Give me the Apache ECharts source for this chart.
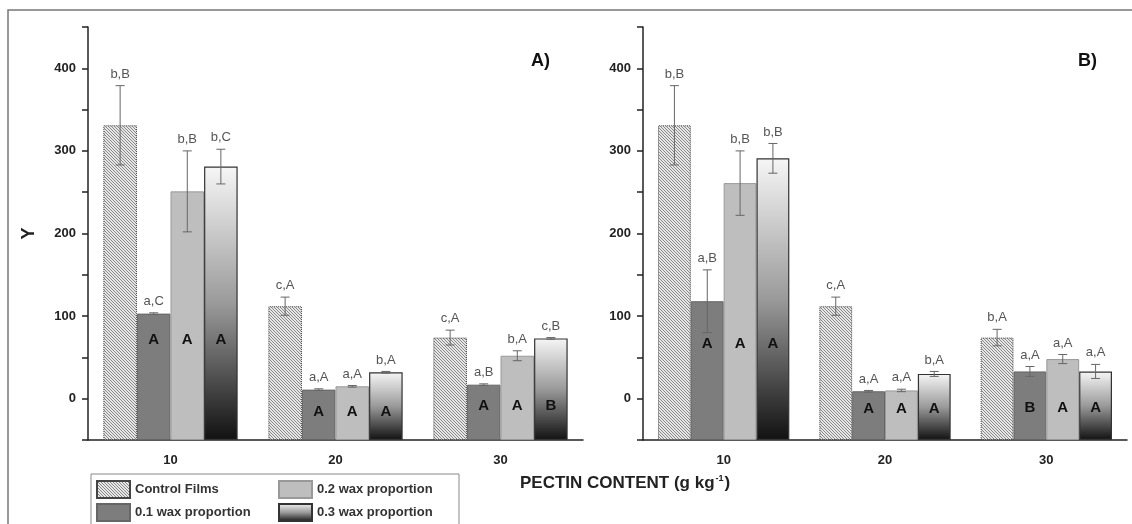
<!DOCTYPE html>
<html><head><meta charset="utf-8">
<script src="https://cdn.jsdelivr.net/npm/echarts@6/dist/echarts.min.js"></script>
<style>html,body{margin:0;padding:0;background:#fff}#c{width:1132px;height:524px}</style>
</head><body><div id="c"></div>
<script>
// ---------- data ----------
const categories = ['10', '20', '30'];
const seriesNames = ['Control Films', '0.1 wax proportion', '0.2 wax proportion', '0.3 wax proportion'];
const yTickLabels = [0, 100, 200, 300, 400];
const yMin = -50, yMax = 450;

// Panel A
const aControl = [331, 112, 74];
const aWax01 = [103, 11, 17];
const aWax02 = [251, 15, 52];
const aWax03 = [281, 32, 73];
const aControlErr = [48, 11, 9];
const aWax01Err = [1, 1, 1];
const aWax02Err = [49, 1, 6];
const aWax03Err = [21, 1, 1];
const aControlLbl = ['b,B', 'c,A', 'c,A'];
const aWax01Lbl = ['a,C', 'a,A', 'a,B'];
const aWax02Lbl = ['b,B', 'a,A', 'b,A'];
const aWax03Lbl = ['b,C', 'b,A', 'c,B'];
const aWax01In = ['A', 'A', 'A'];
const aWax02In = ['A', 'A', 'A'];
const aWax03In = ['A', 'A', 'B'];
const aInnerY = [71, -16, -9];

// Panel B
const bControl = [331, 112, 74];
const bWax01 = [118, 9, 33];
const bWax02 = [261, 10, 48];
const bWax03 = [291, 30, 33];
const bControlErr = [48, 11, 10];
const bWax01Err = [38, 1, 6];
const bWax02Err = [39, 1.5, 5.5];
const bWax03Err = [18, 3, 8.5];
const bControlLbl = ['b,B', 'c,A', 'b,A'];
const bWax01Lbl = ['a,B', 'a,A', 'a,A'];
const bWax02Lbl = ['b,B', 'a,A', 'a,A'];
const bWax03Lbl = ['b,B', 'b,A', 'a,A'];
const bWax01In = ['A', 'A', 'B'];
const bWax02In = ['A', 'A', 'A'];
const bWax03In = ['A', 'A', 'A'];
const bInnerY = [66, -12, -11];

// ---------- styles ----------
const FONT = "'Liberation Sans', Arial, sans-serif";
const GAP = 0.186;

const hatch = document.createElement('canvas');
hatch.width = 3; hatch.height = 3;
(function () {
  const ctx = hatch.getContext('2d');
  ctx.fillStyle = '#e6e6e6'; ctx.fillRect(0, 0, 3, 3);
  ctx.fillStyle = '#8a8a8a';
  for (let i = 0; i < 3; i++) ctx.fillRect(i, i, 1, 1);
})();

const styles = [
  { color: { image: hatch, repeat: 'repeat' }, borderColor: '#444', borderWidth: 1, borderType: 'dotted' },
  { color: '#7d7d7d', borderColor: '#666', borderWidth: 1 },
  { color: '#bebebe', borderColor: '#999', borderWidth: 1 },
  { color: new echarts.graphic.LinearGradient(0, 0, 0, 1, [
      { offset: 0, color: '#f6f6f6' }, { offset: 0.5, color: '#9a9a9a' }, { offset: 1, color: '#111' }]),
    borderColor: '#333', borderWidth: 1.2 }
];

function buildPanel(p, vals, errs, lbls, inns, innerY) {
  const xi = p * 2, yi = p;
  const series = [];
  vals.forEach((arr, s) => {
    const stack = 'p' + p + 's' + s;
    series.push({
      type: 'bar', name: '_base', stack, stackStrategy: 'all', xAxisIndex: xi, yAxisIndex: yi,
      data: arr.map(() => yMin), itemStyle: { color: 'rgba(0,0,0,0)' }, silent: true,
      barGap: '0%', barCategoryGap: (GAP * 100) + '%'
    });
    series.push({
      type: 'bar', name: seriesNames[s], stack, stackStrategy: 'all', xAxisIndex: xi, yAxisIndex: yi,
      data: arr.map(v => v - yMin), itemStyle: styles[s],
      barGap: '0%', barCategoryGap: (GAP * 100) + '%'
    });
  });
  const records = [];
  vals.forEach((arr, s) => arr.forEach((v, c) => {
    records.push({ c, s, v, e: errs[s][c], lbl: lbls[s][c], inn: inns[s] ? inns[s][c] : null, iy: innerY[c] });
  }));
  series.push({
    type: 'custom', xAxisIndex: xi, yAxisIndex: yi, z: 5, silent: true,
    data: records.map(r => [r.c, r.s, r.v, r.e]),
    encode: { x: 0, y: 2 },
    renderItem: (params, api) => {
      const r = records[params.dataIndex];
      const cw = api.size([1, 0])[0];
      const bw = cw * (1 - GAP) / 4;
      const cx = api.coord([r.c, 0])[0] - 2 * bw + bw * (r.s + 0.5);
      const yt = api.coord([r.c, r.v + r.e])[1];
      const yb = api.coord([r.c, r.v - r.e])[1];
      const cap = 4.5;
      const ls = { stroke: '#666', lineWidth: 1 };
      const children = [
        { type: 'line', shape: { x1: cx, y1: yt, x2: cx, y2: yb }, style: ls },
        { type: 'line', shape: { x1: cx - cap, y1: yt, x2: cx + cap, y2: yt }, style: ls },
        { type: 'line', shape: { x1: cx - cap, y1: yb, x2: cx + cap, y2: yb }, style: ls },
        { type: 'text', x: cx, y: yt - 5, style: { text: r.lbl, fill: '#555', font: '13px ' + FONT, align: 'center', verticalAlign: 'bottom' } }
      ];
      if (r.inn) {
        const yy = api.coord([r.c, r.iy])[1];
        children.push({ type: 'text', x: cx, y: yy, style: { text: r.inn, fill: '#111', font: 'bold 15px ' + FONT, align: 'center', verticalAlign: 'middle' } });
      }
      return { type: 'group', children };
    }
  });
  return series;
}

const seriesA = buildPanel(0, [aControl, aWax01, aWax02, aWax03], [aControlErr, aWax01Err, aWax02Err, aWax03Err],
  [aControlLbl, aWax01Lbl, aWax02Lbl, aWax03Lbl], [null, aWax01In, aWax02In, aWax03In], aInnerY);
const seriesB = buildPanel(1, [bControl, bWax01, bWax02, bWax03], [bControlErr, bWax01Err, bWax02Err, bWax03Err],
  [bControlLbl, bWax01Lbl, bWax02Lbl, bWax03Lbl], [null, bWax01In, bWax02In, bWax03In], bInnerY);

function xAxes(g) {
  return [
    { type: 'category', gridIndex: g, data: categories, position: 'bottom',
      axisLine: { onZero: false, lineStyle: { color: '#222', width: 1.5 } },
      axisTick: { alignWithLabel: true, interval: 0, length: 6, lineStyle: { color: '#222', width: 1.5 } },
      axisLabel: { margin: 14, color: '#222', fontSize: 13, fontWeight: 'bold', fontFamily: FONT },
      splitLine: { show: false } },
    { type: 'category', gridIndex: g, data: categories, position: 'bottom',
      axisLine: { show: false, onZero: false }, axisLabel: { show: false },
      axisTick: { alignWithLabel: false, interval: 0, length: 4, lineStyle: { color: '#222', width: 1.2 } },
      splitLine: { show: false } }
  ];
}
function yAxis(g, name) {
  return {
    type: 'value', gridIndex: g, min: yMin, max: yMax, interval: 50,
    name: name, nameLocation: 'middle', nameGap: 50, nameRotate: 90,
    nameTextStyle: { fontSize: 18, fontWeight: 'bold', color: '#222', fontFamily: FONT },
    axisLine: { show: true, onZero: false, lineStyle: { color: '#222', width: 1.5 } },
    axisTick: { show: true, length: 6, lineStyle: { color: '#222', width: 1.5 } },
    axisLabel: { margin: 12, color: '#222', fontSize: 13, fontWeight: 'bold', fontFamily: FONT,
      formatter: v => yTickLabels.indexOf(v) >= 0 ? String(v) : '' },
    splitLine: { show: false }
  };
}

const legendText = { fontSize: 13, fontWeight: 'bold', color: '#333', fontFamily: FONT };
const option = {
  backgroundColor: '#fff',
  animation: false,
  grid: [
    { left: 88, top: 27, width: 495, height: 413, containLabel: false, outerBoundsMode: 'none' },
    { left: 643, top: 27, width: 484, height: 413, containLabel: false, outerBoundsMode: 'none' }
  ],
  xAxis: [...xAxes(0), ...xAxes(1)],
  yAxis: [yAxis(0, 'Y'), yAxis(1, '')],
  title: [
    { text: 'PECTIN CONTENT (g kg{sup|-1})', left: 520, top: 474, padding: 0,
      textStyle: { fontSize: 17, fontWeight: 'bold', color: '#222', fontFamily: FONT,
        rich: { sup: { fontSize: 9, fontWeight: 'bold', color: '#222', fontFamily: FONT, verticalAlign: 'top', padding: [0, 1, 9, 1] } } } },
    { text: 'A)', left: 531, top: 52, padding: 0, textStyle: { fontSize: 18, fontWeight: 'bold', color: '#111', fontFamily: FONT } },
    { text: 'B)', left: 1078, top: 52, padding: 0, textStyle: { fontSize: 18, fontWeight: 'bold', color: '#111', fontFamily: FONT } }
  ],
  legend: [
    { data: [seriesNames[0], seriesNames[1]], orient: 'vertical', left: 96, top: 480, padding: 0,
      itemWidth: 33, itemHeight: 17, itemGap: 4, icon: 'rect', selectedMode: false, textStyle: legendText },
    { data: [seriesNames[2], seriesNames[3]], orient: 'vertical', left: 278, top: 480, padding: 0,
      itemWidth: 33, itemHeight: 17, itemGap: 4, icon: 'rect', selectedMode: false, textStyle: legendText }
  ],
  graphic: [
    { type: 'rect', silent: true, z: -10, shape: { x: 8, y: 10, width: 1200, height: 600 }, style: { fill: 'none', stroke: '#777', lineWidth: 1.5 } },
    { type: 'rect', silent: true, z: -5, shape: { x: 91, y: 474, width: 368, height: 70 }, style: { fill: 'none', stroke: '#888', lineWidth: 1 } }
  ],
  series: [...seriesA, ...seriesB]
};
const chart = echarts.init(document.getElementById('c'), null, { renderer: 'canvas' });
chart.setOption(option);
</script></body></html>
